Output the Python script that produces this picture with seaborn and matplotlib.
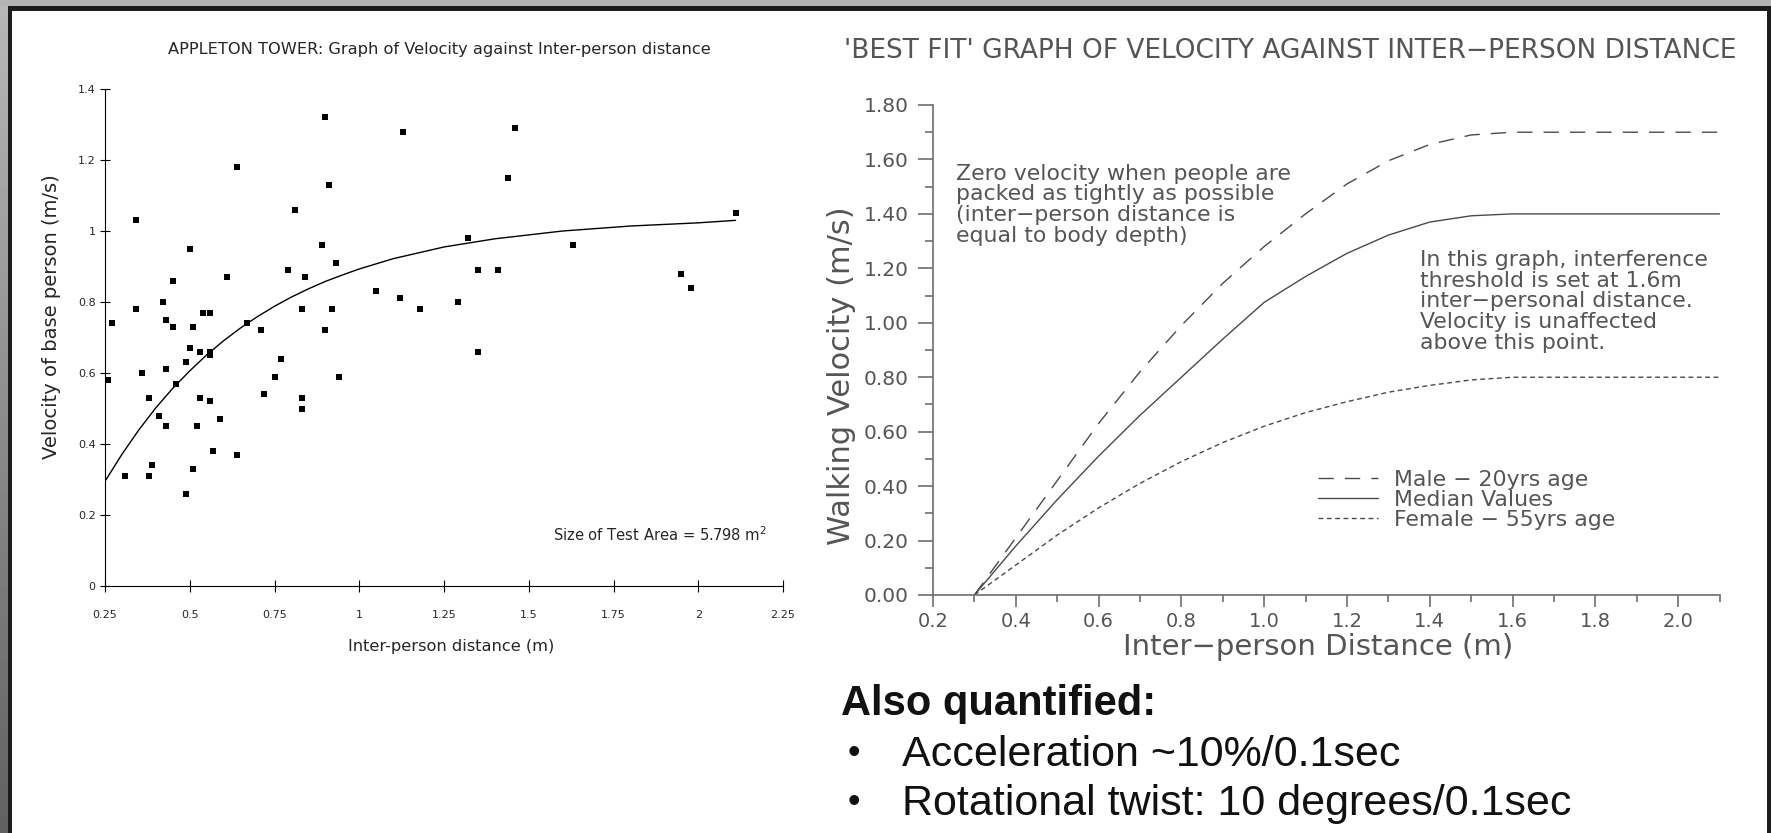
import numpy as np
import pandas as pd
import matplotlib
matplotlib.use('Agg')
import matplotlib.pyplot as plt
from matplotlib.patches import Rectangle
import seaborn as sns

dist = [0.26, 0.27, 0.31, 0.34, 0.34, 0.36, 0.38, 0.38, 0.39, 0.41, 0.42, 0.43,
        0.43, 0.43, 0.45, 0.45, 0.46, 0.49, 0.49, 0.50, 0.50, 0.51, 0.51, 0.52,
        0.53, 0.53, 0.54, 0.56, 0.56, 0.56, 0.56, 0.57, 0.59, 0.61, 0.64, 0.64,
        0.67, 0.71, 0.72, 0.75, 0.77, 0.79, 0.81, 0.83, 0.83, 0.83, 0.84, 0.89,
        0.90, 0.90, 0.91, 0.92, 0.93, 0.94, 1.05, 1.12, 1.13, 1.18, 1.29, 1.32,
        1.35, 1.35, 1.41, 1.44, 1.46, 1.63, 1.95, 1.98, 2.11]
vel = [0.58, 0.74, 0.31, 1.03, 0.78, 0.60, 0.53, 0.31, 0.34, 0.48, 0.80, 0.75,
       0.61, 0.45, 0.86, 0.73, 0.57, 0.63, 0.26, 0.95, 0.67, 0.73, 0.33, 0.45,
       0.66, 0.53, 0.77, 0.77, 0.66, 0.65, 0.52, 0.38, 0.47, 0.87, 1.18, 0.37,
       0.74, 0.72, 0.54, 0.59, 0.64, 0.89, 1.06, 0.78, 0.53, 0.50, 0.87, 0.96,
       1.32, 0.72, 1.13, 0.78, 0.91, 0.59, 0.83, 0.81, 1.28, 0.78, 0.80, 0.98,
       0.89, 0.66, 0.89, 1.15, 1.29, 0.96, 0.88, 0.84, 1.05]

# best fit curve of the left chart, read at these distances
fit_x = [0.25, 0.30, 0.35, 0.40, 0.45, 0.50, 0.55, 0.60, 0.65, 0.70, 0.75,
         0.80, 0.85, 0.90, 0.95, 1.00, 1.10, 1.25, 1.40, 1.60, 1.80, 2.00, 2.11]
fit_y = [0.295, 0.371, 0.440, 0.502, 0.557, 0.606, 0.651, 0.691, 0.727, 0.759,
         0.788, 0.814, 0.837, 0.858, 0.876, 0.893, 0.922, 0.955, 0.978, 1.000,
         1.014, 1.023, 1.030]

left_xticks = [0.25, 0.5, 0.75, 1, 1.25, 1.5, 1.75, 2, 2.25]
left_xlabels = ['0.25', '0.5', '0.75', '1', '1.25', '1.5', '1.75', '2', '2.25']
left_yticks = [0, 0.2, 0.4, 0.6, 0.8, 1.0, 1.2, 1.4]
left_ylabels = ['0', '0.2', '0.4', '0.6', '0.8', '1', '1.2', '1.4']

# ---- right chart: 'best fit' curves
gap_x = [0.3, 0.4, 0.5, 0.6, 0.7, 0.8, 0.9, 1.0, 1.1, 1.2, 1.3, 1.4, 1.5, 1.6, 2.1]
male = [0.00, 0.21, 0.42, 0.63, 0.82, 0.99, 1.145, 1.28, 1.40, 1.51, 1.595,
        1.655, 1.69, 1.70, 1.70]
median = [0.00, 0.18, 0.35, 0.51, 0.66, 0.80, 0.94, 1.075, 1.17, 1.255, 1.322,
          1.37, 1.393, 1.40, 1.40]
female = [0.00, 0.11, 0.22, 0.32, 0.41, 0.49, 0.56, 0.62, 0.67, 0.71, 0.745,
          0.77, 0.79, 0.80, 0.80]
series_names = ['Male \u2212 20yrs age', 'Median Values', 'Female \u2212 55yrs age']

right_xticks = [0.2, 0.4, 0.6, 0.8, 1.0, 1.2, 1.4, 1.6, 1.8, 2.0]
right_xlabels = ['0.2', '0.4', '0.6', '0.8', '1.0', '1.2', '1.4', '1.6', '1.8', '2.0']
right_xminor = [0.3, 0.5, 0.7, 0.9, 1.1, 1.3, 1.5, 1.7, 1.9, 2.1]
right_yticks = [0.0, 0.2, 0.4, 0.6, 0.8, 1.0, 1.2, 1.4, 1.6, 1.8]
right_ylabels = ['0.00', '0.20', '0.40', '0.60', '0.80', '1.00', '1.20', '1.40',
                 '1.60', '1.80']
right_yminor = [0.1, 0.3, 0.5, 0.7, 0.9, 1.1, 1.3, 1.5, 1.7]

sns.set_style('ticks')
plt.rcParams['font.family'] = ['DejaVu Sans']

W, H = 1771, 833
fig = plt.figure(figsize=(W / 100, H / 100), dpi=100, facecolor='white')


def fx(px):
    return px / W


def fy(py):
    return 1 - py / H


# slide frame (grey strip + dark edge)
band = fig.add_axes([0, 0, fx(8), 1])
band.imshow(np.linspace(0.72, 0.38, 200).reshape(-1, 1), cmap='gray',
            vmin=0, vmax=1, aspect='auto', extent=[0, 1, 0, 1])
band.axis('off')
frame = '#1c1c1c'
fig.add_artist(Rectangle((0, fy(6)), 1, 6 / H, transform=fig.transFigure,
                         color='#b4b4b4', lw=0))
fig.add_artist(Rectangle((fx(8), fy(11)), 1, 5 / H, transform=fig.transFigure,
                         color=frame, lw=0))
fig.add_artist(Rectangle((fx(8), 0), 4 / W, fy(6), transform=fig.transFigure,
                         color=frame, lw=0))
fig.add_artist(Rectangle((fx(1767), 0), 4 / W, fy(6), transform=fig.transFigure,
                         color=frame, lw=0))

# ---------------- left chart
ax1 = fig.add_axes([fx(105), fy(586), fx(783) - fx(105), fy(89) - fy(586)])
sns.scatterplot(x=dist, y=vel, marker='s', s=14, color='black', linewidth=0,
                ax=ax1)
sns.lineplot(x=fit_x, y=fit_y, color='black', lw=1.0, ax=ax1)
ax1.set_xlim(0.25, 2.25)
ax1.set_ylim(0, 1.4)
ax1.set_xticks(left_xticks)
ax1.set_xticklabels(left_xlabels)
ax1.set_yticks(left_yticks)
ax1.set_yticklabels(left_ylabels)
sns.despine(ax=ax1)
for s in ['left', 'bottom']:
    ax1.spines[s].set_linewidth(0.8)
    ax1.spines[s].set_color('black')
ax1.tick_params(axis='x', direction='inout', length=9, width=0.8, pad=13,
                labelsize=8, color='black')
ax1.tick_params(axis='y', direction='inout', length=7.5, width=0.8, pad=3,
                labelsize=8, color='black')
ax1.set_title('APPLETON TOWER: Graph of Velocity against Inter-person distance',
              fontsize=11.7, x=0.4934, y=1.0704, pad=0)
ax1.set_xlabel('Inter-person distance (m)', fontsize=11.7)
ax1.xaxis.label.set_va('center')
ax1.xaxis.set_label_coords(0.511, -0.122)
ax1.set_ylabel('Velocity of base person (m/s)', fontsize=14)
ax1.yaxis.set_label_coords(-0.065, 0.541)
ax1.text(1.571, 0.127, 'Size of Test Area = 5.798 m$^{2}$', fontsize=10.6,
         va='baseline', ha='left')

# ---------------- right chart
grey = '#555555'
axc = '#6e6e6e'
ax2 = fig.add_axes([fx(933), fy(595), fx(1719.5) - fx(933), fy(105) - fy(595)])
curves = pd.DataFrame({
    'distance': gap_x * 3,
    'velocity': male + median + female,
    'series': [series_names[0]] * len(gap_x) + [series_names[1]] * len(gap_x)
              + [series_names[2]] * len(gap_x),
})
sns.lineplot(data=curves, x='distance', y='velocity', hue='series',
             style='series', hue_order=series_names, style_order=series_names,
             palette={n: '#4a4a4a' for n in series_names},
             dashes={series_names[0]: (11, 8), series_names[1]: '',
                     series_names[2]: (3.5, 2.5)},
             lw=1.0, ax=ax2)
ax2.set_xlim(0.2, 2.1)
ax2.set_ylim(0, 1.8)
ax2.set_xticks(right_xticks)
ax2.set_xticklabels(right_xlabels)
ax2.set_xticks(right_xminor, minor=True)
ax2.set_yticks(right_yticks)
ax2.set_yticklabels(right_ylabels)
ax2.set_yticks(right_yminor, minor=True)
sns.despine(ax=ax2)
for s in ['left', 'bottom']:
    ax2.spines[s].set_linewidth(1.2)
    ax2.spines[s].set_color(axc)
ax2.tick_params(axis='x', which='major', direction='out', length=8.5, width=1.2,
                pad=3.5, labelsize=14, color=axc, labelcolor=grey)
ax2.tick_params(axis='x', which='minor', direction='out', length=5, width=1.2,
                color=axc)
ax2.tick_params(axis='y', which='major', direction='out', length=10.5, width=1.2,
                pad=7, labelsize=14.5, color=axc, labelcolor=grey)
ax2.tick_params(axis='y', which='minor', direction='out', length=5.5, width=1.2,
                color=axc)
ax2.set_title("'BEST FIT' GRAPH OF VELOCITY AGAINST INTER\u2212PERSON DISTANCE",
              fontsize=19, color=grey, x=0.4544, y=1.095, pad=0)
ax2.set_xlabel('Inter\u2212person Distance (m)', fontsize=21, color=grey)
ax2.xaxis.label.set_va('center')
ax2.xaxis.set_label_coords(0.4896, -0.1055)
ax2.set_ylabel('Walking Velocity (m/s)', fontsize=22, color=grey)
ax2.yaxis.set_label_coords(-0.0978, 0.447)

ax2.text(0.256, 1.585, 'Zero velocity when people are\n'
         'packed as tightly as possible\n'
         '(inter\u2212person distance is\n'
         'equal to body depth)',
         fontsize=15.8, color=grey, va='top', ha='left', linespacing=1.05)
ax2.text(1.377, 1.268, 'In this graph, interference\n'
         'threshold is set at 1.6m\n'
         'inter\u2212personal distance.\n'
         'Velocity is unaffected\n'
         'above this point.',
         fontsize=15.8, color=grey, va='top', ha='left', linespacing=1.05)

handles, labels = ax2.get_legend_handles_labels()
keep = [(h, l) for h, l in zip(handles, labels) if l in series_names]
ax2.legend([h for h, _ in keep], [l for _, l in keep], loc='upper left',
           bbox_to_anchor=(0.4896, 0.255), frameon=False, fontsize=15.8,
           labelcolor=grey, handlelength=2.75, handletextpad=0.72,
           labelspacing=0.0, borderpad=0, borderaxespad=0)

# ---------------- notes under the right chart
fig.text(fx(841), fy(715), 'Also quantified:', fontsize=30, weight='bold',
         family='Liberation Sans', va='baseline', ha='left', color='#111111')
notes = ['Acceleration ~10%/0.1sec', 'Rotational twist: 10 degrees/0.1sec']
for i, note in enumerate(notes):
    base = 766 + 49 * i
    fig.text(fx(848), fy(base - 3), '\u2022', fontsize=26,
             family='Liberation Sans', va='baseline', ha='left',
             color='#111111')
    fig.text(fx(902), fy(base), note, fontsize=31, family='Liberation Sans',
             va='baseline', ha='left', color='#111111')

fig.savefig('out.png', dpi=100, facecolor='white')
